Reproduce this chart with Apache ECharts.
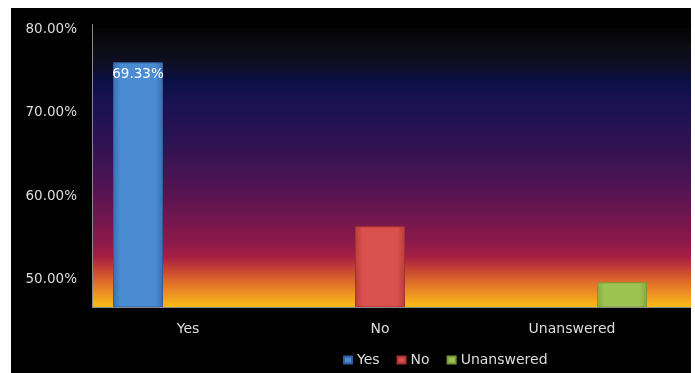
<!DOCTYPE html>
<html>
<head>
<meta charset="utf-8">
<script src="https://cdn.jsdelivr.net/npm/echarts@6/dist/echarts.min.js"></script>
<style>
    html, body { margin: 0; padding: 0; background: #fff; }
    #main { width: 695px; height: 373px; }
</style>
</head>
<body>
<div id="main"></div>
<script>
// data
var categories = ['Yes', 'No', 'Unanswered'];
var yesValues = [75.9, '-', '-'];
var noValues = ['-', 56.3, '-'];
var unansweredValues = ['-', '-', 49.6];
var yesLabels = ['69.33%'];
var yTicks = [50, 60, 70, 80];

var font = 'DejaVu Sans';

function barColor(dark, light) {
    return new echarts.graphic.LinearGradient(0, 0, 1, 0, [
        {offset: 0, color: dark},
        {offset: 0.15, color: light},
        {offset: 0.85, color: light},
        {offset: 1, color: dark}
    ]);
}

var chart = echarts.init(document.getElementById('main'));
var option = {
    backgroundColor: '#fff',
    animation: false,
    textStyle: {fontFamily: font},
    graphic: [
        {
            type: 'rect', z: -20, silent: true,
            shape: {x: 11, y: 8, width: 680, height: 365},
            style: {fill: '#020202'}
        },
        {
            type: 'rect', z: -10, silent: true,
            shape: {x: 92, y: 28, width: 599, height: 279},
            style: {
                fill: new echarts.graphic.LinearGradient(0, 0, 0, 1, [
                    {offset: 0, color: '#050505'},
                    {offset: 0.08, color: '#0d0d14'},
                    {offset: 0.14, color: '#0e0f2a'},
                    {offset: 0.19, color: '#0c1045'},
                    {offset: 0.27, color: '#1a1252'},
                    {offset: 0.4, color: '#2c1252'},
                    {offset: 0.55, color: '#4c1452'},
                    {offset: 0.69, color: '#74164e'},
                    {offset: 0.77, color: '#8c1a4a'},
                    {offset: 0.82, color: '#a61e42'},
                    {offset: 0.87, color: '#c84832'},
                    {offset: 0.93, color: '#e87e28'},
                    {offset: 1, color: '#fabc16'}
                ])
            }
        },
        {
            type: 'line', z: 10, silent: true,
            shape: {x1: 92, y1: 307.5, x2: 691, y2: 307.5},
            style: {stroke: '#8a8a8a', lineWidth: 1}
        },
        {
            type: 'line', z: 10, silent: true,
            shape: {x1: 92.5, y1: 24, x2: 92.5, y2: 307},
            style: {stroke: '#8a8a8a', lineWidth: 1}
        }
    ],
    grid: {
        left: 92,
        right: 27,
        top: 28,
        bottom: 66
    },
    legend: {
        left: 338,
        top: 348,
        itemWidth: 8,
        itemHeight: 7,
        itemGap: 17,
        icon: 'rect',
        textStyle: {color: '#dddddd', fontSize: 14, fontFamily: font},
        data: ['Yes', 'No', 'Unanswered']
    },
    xAxis: {
        type: 'category',
        data: categories,
        axisLine: {show: false},
        axisTick: {show: false},
        axisLabel: {color: '#dddddd', fontSize: 14, margin: 15, fontFamily: font}
    },
    yAxis: {
        type: 'value',
        min: 46.65,
        max: 80,
        splitLine: {show: false},
        axisTick: {show: false},
        axisLine: {show: false},
        axisLabel: {
            color: '#dddddd',
            fontSize: 13.5,
            margin: 15,
            fontFamily: font,
            customValues: yTicks,
            verticalAlign: 'top',
            padding: [-6, 0, 0, 0],
            formatter: function (v) { return v.toFixed(2) + '%'; }
        }
    },
    series: [
        {
            name: 'Yes',
            type: 'bar',
            barWidth: 50,
            barGap: '0%',
            data: yesValues,
            itemStyle: {
                color: barColor('#3a6fb0', '#4b8bd2'),
                borderColor: '#2f5f9c',
                borderWidth: 1
            },
            label: {
                show: true,
                position: 'insideTop',
                distance: 5,
                color: '#ffffff',
                fontSize: 13.5,
                fontFamily: font,
                formatter: function () { return yesLabels[0]; }
            }
        },
        {
            name: 'No',
            type: 'bar',
            barWidth: 50,
            barGap: '0%',
            data: noValues,
            itemStyle: {
                color: barColor('#b83c3a', '#d9504c'),
                borderColor: '#a33331',
                borderWidth: 1
            }
        },
        {
            name: 'Unanswered',
            type: 'bar',
            barWidth: 50,
            barGap: '0%',
            data: unansweredValues,
            itemStyle: {
                color: barColor('#84a83f', '#9cc452'),
                borderColor: '#7a9a3a',
                borderWidth: 1
            }
        }
    ]
};
chart.setOption(option);
</script>
</body>
</html>
